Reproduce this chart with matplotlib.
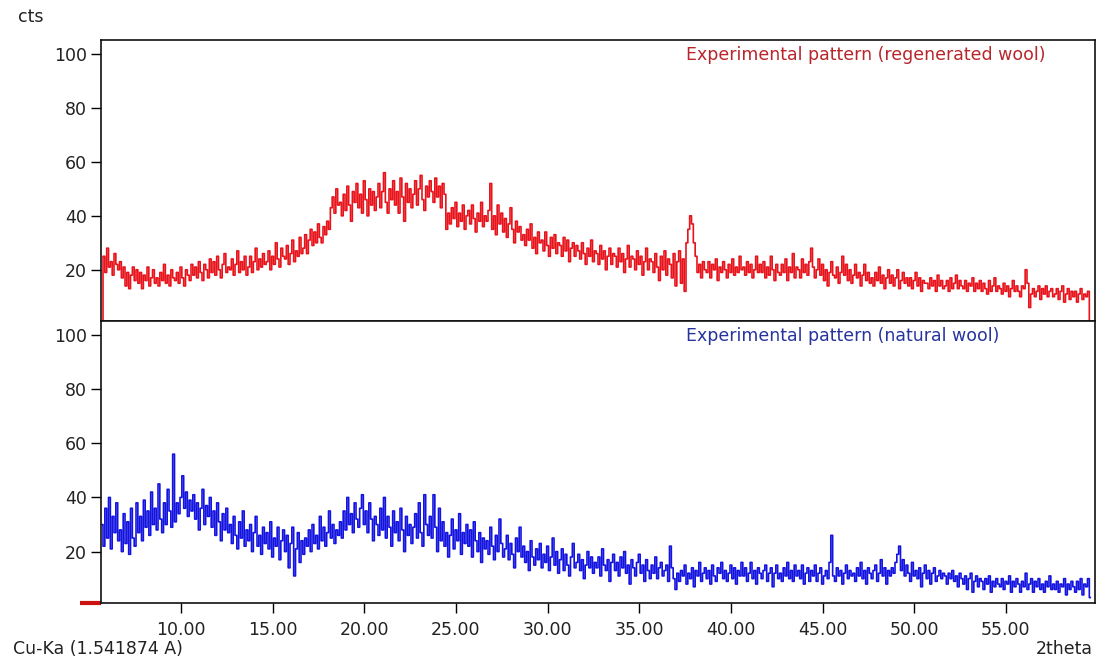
import numpy as np
import matplotlib
matplotlib.use("Agg")
import matplotlib.pyplot as plt

# 2theta grid start and step (degrees)
x_start = 5.7
x_step = 0.1

# Regenerated wool (top panel), counts, rows of 10 points = 1 degree each
regenerated = [
    0, 25, 19, 28, 21, 23, 18, 26, 22, 20,
    23, 17, 21, 14, 19, 13, 18, 21, 16, 20,
    15, 19, 13, 18, 16, 21, 14, 17, 20, 15,
    17, 14, 19, 16, 22, 15, 18, 14, 20, 17,
    16, 19, 15, 21, 17, 14, 20, 18, 16, 22,
    18, 21, 17, 23, 19, 16, 22, 20, 17, 24,
    19, 23, 18, 25, 20, 17, 22, 26, 19, 21,
    20, 24, 18, 22, 27, 19, 23, 20, 25, 18,
    21, 25, 19, 23, 28, 20, 24, 21, 26, 22,
    23, 27, 20, 25, 22, 30, 24, 21, 28, 25,
    24, 29, 22, 26, 31, 23, 27, 25, 32, 26,
    28, 33, 26, 31, 35, 29, 34, 30, 37, 32,
    30, 36, 33, 38, 35, 43, 47, 41, 50, 44,
    45, 40, 48, 42, 51, 44, 38, 49, 45, 52,
    43, 48, 41, 53, 46, 40, 50, 44, 49, 42,
    47, 52, 43, 49, 56, 45, 41, 50, 46, 53,
    44, 49, 41, 54, 47, 38, 52, 45, 50, 43,
    48, 53, 44, 50, 55, 46, 42, 51, 47, 53,
    49, 45, 54, 47, 51, 43, 52, 48, 35, 41,
    37, 43, 39, 45, 36, 41, 38, 44, 35, 40,
    42, 37, 44, 39, 34, 41, 38, 45, 36, 40,
    38, 42, 52, 35, 40, 33, 44, 37, 41, 34,
    39, 32, 37, 43, 35, 30, 38, 34, 36, 31,
    33, 29, 35, 31, 37, 28, 32, 26, 34, 30,
    31, 27, 34, 29, 25, 32, 28, 33, 26, 30,
    29, 25, 32, 27, 31, 23, 28, 30, 25, 29,
    27, 24, 30, 26, 22, 28, 25, 31, 23, 27,
    26, 22, 29, 24, 27, 20, 25, 28, 22, 26,
    25, 21, 28, 23, 26, 19, 24, 29, 21, 25,
    24, 20, 27, 22, 25, 18, 23, 28, 20, 24,
    23, 19, 26, 21, 16, 25, 20, 27, 18, 24,
    22, 17, 26, 14, 23, 27, 15, 24, 12, 30,
    35, 40, 37, 30, 25, 19, 22, 17, 23, 20,
    19, 23, 17, 22, 20, 24, 16, 21, 19, 23,
    20, 17, 22, 19, 24, 18, 21, 19, 25, 20,
    21, 18, 23, 19, 22, 17, 20, 25, 19, 22,
    19, 23, 17, 21, 18, 25, 20, 16, 22, 19,
    18, 22, 19, 24, 16, 21, 19, 26, 17, 21,
    20, 17, 24, 19, 22, 18, 23, 28, 21, 17,
    20, 24, 18, 22, 16, 20, 14, 19, 23, 18,
    17, 21, 15, 19, 25, 18, 22, 16, 20, 15,
    18, 22, 17, 19, 14, 18, 22, 16, 19, 15,
    17, 14, 19, 16, 21, 15, 18, 13, 17, 20,
    15, 18, 14, 17, 20, 13, 16, 19, 15, 17,
    14, 17, 13, 16, 19, 14, 17, 12, 16, 15,
    15, 13, 17, 14, 16, 12, 18, 14, 16, 13,
    14, 16, 12, 17, 13, 15, 18, 13, 16, 14,
    13, 16, 12, 15, 14, 17, 12, 15, 13, 16,
    12, 15, 13, 11, 16, 12, 14, 17, 12, 14,
    13, 11, 15, 12, 14, 10, 13, 16, 12, 14,
    12, 10, 14, 13, 20, 15, 6, 11, 13, 10,
    12, 14, 9, 13, 11, 14, 10, 12, 13, 10,
    11, 13, 9, 12, 14, 8, 11, 13, 9, 12,
    10, 12, 8, 11, 13, 9, 11, 10, 12, 0,
]

# Natural wool (bottom panel), counts
natural = [
    30, 22, 36, 25, 40, 21, 33, 27, 38, 24,
    28, 20, 34, 23, 31, 19, 36, 25, 22, 38,
    27, 33, 24, 39, 29, 35, 26, 42, 30, 36,
    28, 45, 32, 27, 38, 30, 43, 35, 29, 56,
    31, 38, 34, 40, 48, 36, 42, 33, 39, 35,
    41, 32, 38, 28, 36, 43, 30, 37, 33, 40,
    29, 35, 26, 38, 31, 24, 34, 28, 36, 27,
    30, 23, 33, 26, 21, 31, 25, 35, 22, 28,
    24, 30, 20, 27, 33, 22, 26, 19, 29, 23,
    27, 21, 31, 18, 25, 22, 29, 17, 24, 28,
    20, 26, 14, 23, 29, 11, 21, 27, 16, 24,
    19, 25, 22, 28, 20, 30, 23, 26, 21, 33,
    24, 29, 22, 27, 35, 25, 30, 23, 28, 26,
    31, 25, 35, 28, 40, 30, 34, 27, 38, 32,
    29, 36, 41, 30, 35, 27, 38, 32, 24, 33,
    30, 26, 36, 28, 40, 25, 33, 29, 22, 35,
    27, 31, 24, 36, 28, 20, 33, 26, 30, 23,
    29, 34, 25, 38, 27, 22, 41, 30, 26, 33,
    25, 41, 29, 20, 36, 24, 31, 22, 27, 18,
    26, 32, 21, 28, 24, 34, 19, 27, 23, 30,
    22, 28, 18, 31, 24, 20, 27, 16, 25, 21,
    24, 19, 29, 22, 17, 26, 20, 32, 23, 18,
    21, 26, 17, 23, 19, 14, 25, 20, 29, 18,
    22, 16, 20, 13, 24, 18, 15, 21, 17, 23,
    14, 19, 16, 22, 13, 18, 25, 15, 20, 12,
    17, 21, 13, 19, 15, 11, 18, 23, 14, 16,
    19, 13, 17, 10, 15, 20, 14, 18, 12, 16,
    14, 18, 11, 21, 15, 13, 17, 9, 16, 19,
    13, 16, 11, 18, 14, 20, 12, 15, 8, 17,
    14, 11, 16, 19, 12, 15, 9, 17, 13, 10,
    15, 12, 18, 10, 14, 16, 11, 13, 15, 9,
    22, 14, 10, 6, 12, 9, 13, 11, 15, 8,
    12, 10, 14, 7, 13, 11, 16, 9, 12, 14,
    10, 13, 8, 15, 11, 9, 14, 12, 16, 10,
    13, 9, 12, 15, 10, 14, 8, 13, 11, 16,
    11, 14, 9, 12, 16, 10, 13, 8, 14, 12,
    10, 13, 15, 9, 12, 14, 7, 12, 15, 10,
    12, 9, 14, 11, 16, 10, 13, 9, 15, 11,
    13, 10, 15, 8, 12, 14, 9, 13, 11, 15,
    9, 12, 14, 8, 11, 13, 10, 16, 26, 11,
    9, 14, 11, 13, 8, 12, 15, 10, 13, 11,
    12, 9, 14, 11, 16, 10, 13, 8, 14, 12,
    10, 13, 15, 9, 12, 17, 11, 14, 8, 13,
    11, 14, 12, 16, 19, 22, 13, 17, 11, 15,
    12, 9, 16, 11, 13, 10, 14, 7, 12, 15,
    10, 13, 8, 12, 14, 9, 11, 13, 10, 12,
    11, 8, 12, 10, 13, 9, 11, 7, 12, 10,
    8, 11, 6, 10, 12, 5, 9, 11, 7, 10,
    9, 6, 10, 8, 11, 5, 9, 7, 10, 8,
    7, 10, 6, 9, 8, 11, 5, 9, 7, 10,
    8, 5, 9, 7, 12, 6, 8, 10, 5, 9,
    7, 10, 6, 8, 5, 9, 7, 11, 6, 8,
    6, 9, 5, 8, 7, 10, 4, 8, 6, 9,
    7, 5, 9, 6, 10, 4, 8, 7, 10, 3,
]

y_ticks = [20, 40, 60, 80, 100]
x_ticks = [10, 15, 20, 25, 30, 35, 40, 45, 50, 55]
label_top = "Experimental pattern (regenerated wool)"
label_bottom = "Experimental pattern (natural wool)"

x_reg = x_start + x_step * np.arange(len(regenerated))
x_nat = x_start + x_step * np.arange(len(natural))

plt.rcParams['font.family'] = ['DejaVu Sans']
FS = 12.5
fig = plt.figure(figsize=(10.98, 6.62), dpi=100)
W, H = 1098, 662
left, right = 101 / W, 1095 / W
ax1 = fig.add_axes([left, 1 - 321 / H, right - left, (321 - 40) / H])
ax2 = fig.add_axes([left, 1 - 603 / H, right - left, (603 - 321) / H])

xlim = (5.64, 59.86)
for ax in (ax1, ax2):
    ax.set_xlim(*xlim)
    ax.set_ylim(1.0, 105.2)
    ax.set_yticks(y_ticks)
    ax.tick_params(axis='y', direction='out', length=7, width=1, labelsize=FS, pad=3,
                   labelcolor='#222222')
    for s in ax.spines.values():
        s.set_linewidth(1.2)
        s.set_color('#111111')

ax1.plot(x_reg, regenerated, color='#e8141c', lw=1.2, drawstyle='steps-mid')
ax2.plot(x_nat, natural, color='#1414e0', lw=1.2, drawstyle='steps-mid')

ax1.set_xticks([])
ax2.set_xticks(x_ticks)
ax2.set_xticklabels([f"{t:.2f}" for t in x_ticks])
ax2.tick_params(axis='x', direction='out', length=7, width=1, labelsize=FS, pad=6,
                labelcolor='#222222')

ax1.text(0.5885, 0.947, label_top, transform=ax1.transAxes, color='#b8252b',
         fontsize=FS, ha='left', va='center')
ax2.text(0.5885, 0.947, label_bottom, transform=ax2.transAxes, color='#26349c',
         fontsize=FS, ha='left', va='center')

# red marker at lower-left corner
ax2.plot([-0.021, 0], [0.0, 0.0], transform=ax2.transAxes, color='#cc1111',
         lw=3, clip_on=False, solid_capstyle='butt')

fig.text(18 / W, 1 - 17 / H, "cts", fontsize=FS, ha='left', va='center', color='#222222')
fig.text(13 / W, 1 - 649 / H, "Cu-Ka (1.541874 A)", fontsize=FS, ha='left', va='center',
         color='#222222')
fig.text(1093 / W, 1 - 649 / H, "2theta", fontsize=FS, ha='right', va='center',
         color='#222222')

fig.savefig("out.png", dpi=100)
